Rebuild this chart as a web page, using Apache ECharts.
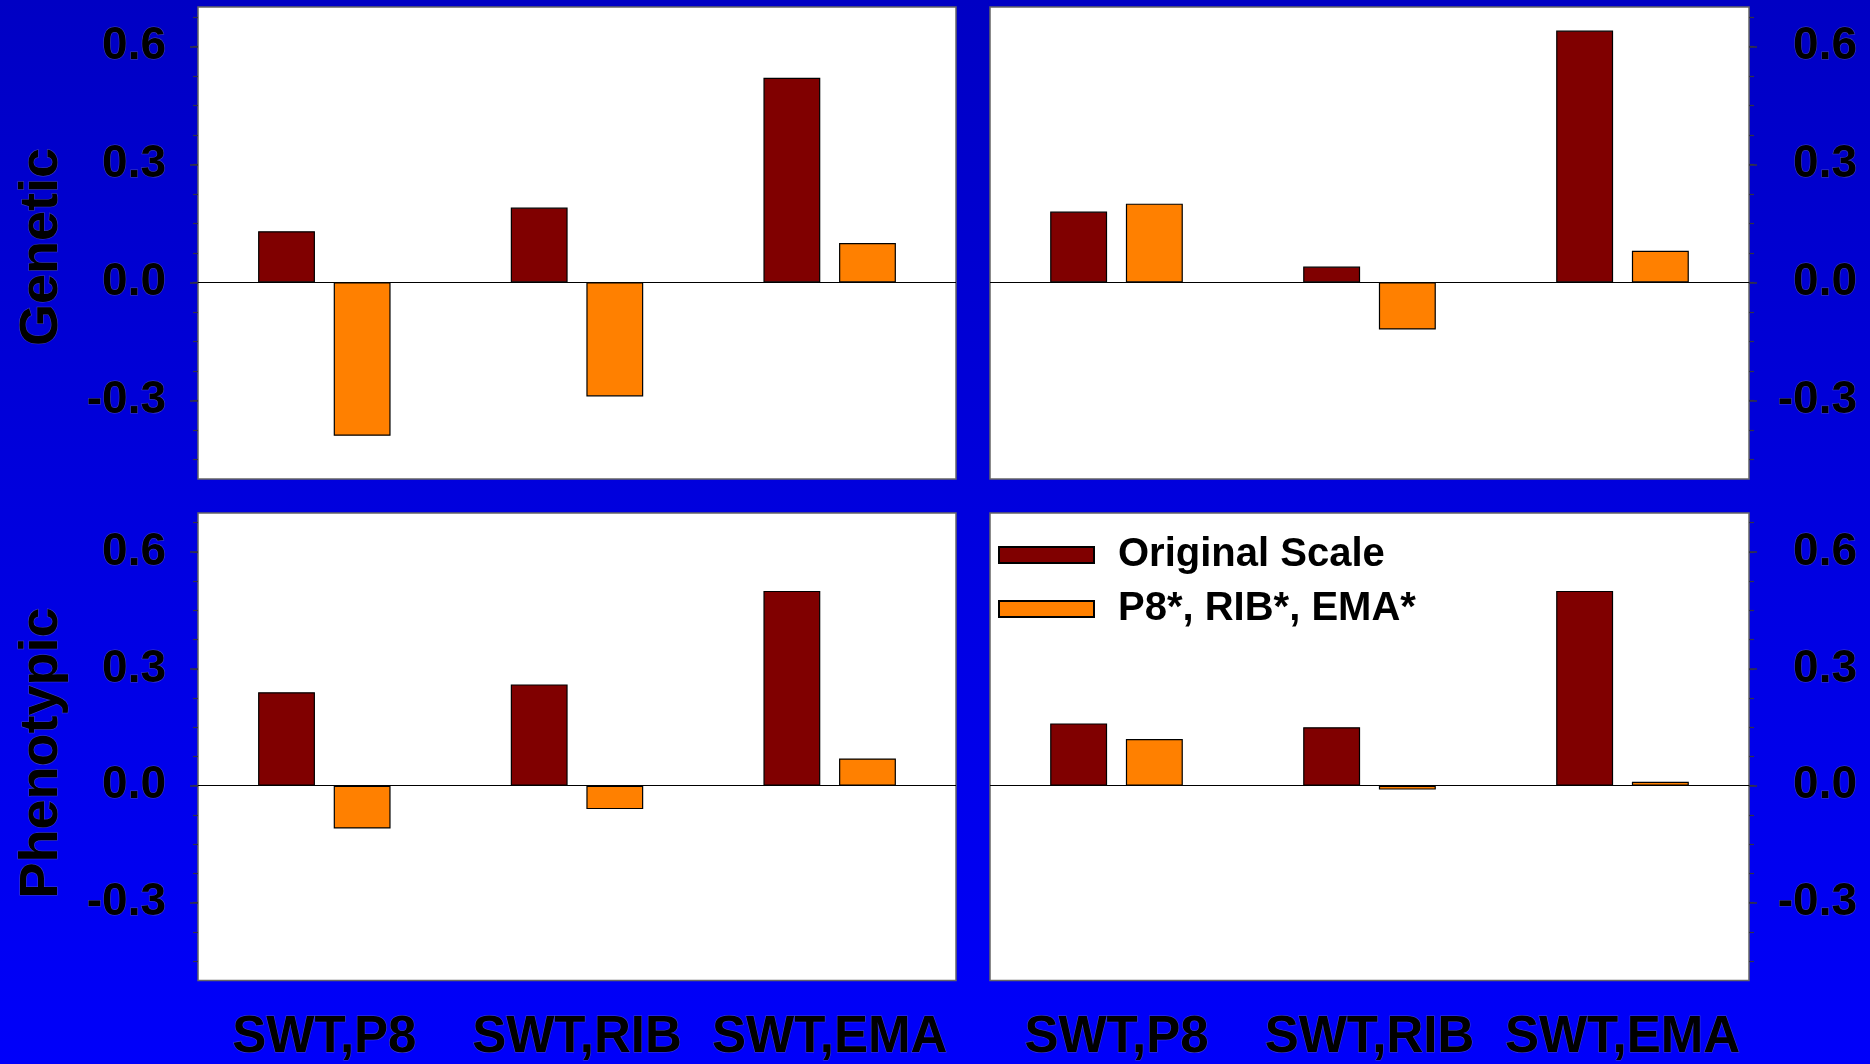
<!DOCTYPE html>
<html>
<head>
<meta charset="utf-8">
<title>Genetic and phenotypic correlations</title>
<script src="https://cdn.jsdelivr.net/npm/echarts@6/dist/echarts.min.js"></script>
<style>
  html, body { margin: 0; padding: 0; }
  body { background: linear-gradient(to bottom, #0000c4 0%, #0000fa 100%); }
  #chart { width: 1870px; height: 1064px; }
</style>
</head>
<body>
<div id="chart"></div>
<script>
// Trait pairs on the category axis
const categories = ['SWT,P8', 'SWT,RIB', 'SWT,EMA'];
const seriesNames = ['Original Scale', 'P8*, RIB*, EMA*'];
const rowTitles = ['Genetic', 'Phenotypic'];

// Correlations, one array per panel and series
const geneticLeftOriginal = [0.13, 0.19, 0.52];
const geneticLeftAdjusted = [-0.39, -0.29, 0.10];
const geneticRightOriginal = [0.18, 0.04, 0.64];
const geneticRightAdjusted = [0.20, -0.12, 0.08];
const phenoLeftOriginal = [0.24, 0.26, 0.50];
const phenoLeftAdjusted = [-0.11, -0.06, 0.07];
const phenoRightOriginal = [0.16, 0.15, 0.50];
const phenoRightAdjusted = [0.12, -0.01, 0.01];

// Value axis ticks
const tickValues = [-0.3, 0, 0.3, 0.6];
const minorTickValues = [-0.45, -0.375, -0.3, -0.225, -0.15, -0.075, 0, 0.075,
  0.15, 0.225, 0.3, 0.375, 0.45, 0.525, 0.6, 0.675];

const seriesColors = ['#800000', '#ff8000'];
const FONT = '"Liberation Sans", Arial, Helvetica, sans-serif';

const panels = [
  { grid: { left: 198, top: 7, width: 758, height: 472 }, side: 'left', xLabels: false,
    data: [geneticLeftOriginal, geneticLeftAdjusted] },
  { grid: { left: 990, top: 7, width: 759, height: 472 }, side: 'right', xLabels: false,
    data: [geneticRightOriginal, geneticRightAdjusted] },
  { grid: { left: 198, top: 513, width: 758, height: 472 }, side: 'left', xLabels: true,
    data: [phenoLeftOriginal, phenoLeftAdjusted] },
  { grid: { left: 990, top: 513, width: 759, height: 472 }, side: 'right', xLabels: true,
    data: [phenoRightOriginal, phenoRightAdjusted] }
];

const textEdge = { textBorderColor: 'rgba(120,120,170,0.55)', textBorderWidth: 1 };

const grid = [], xAxis = [], yAxis = [], series = [];
panels.forEach((p, i) => {
  grid.push(Object.assign({
    show: true, backgroundColor: '#ffffff', borderColor: '#666666', borderWidth: 1.5
  }, p.grid));

  xAxis.push({
    type: 'category', gridIndex: i, data: categories,
    axisLine: { show: false, onZero: false }, axisTick: { show: false },
    splitLine: { show: false },
    axisLabel: Object.assign({
      show: p.xLabels, interval: 0, margin: 32,
      color: '#000', fontSize: 51, fontWeight: 'bold', fontFamily: FONT
    }, textEdge)
  });

  const isRight = p.side === 'right';
  // labelled major ticks
  yAxis.push({
    type: 'value', gridIndex: i, position: p.side, min: -0.5, max: 0.7,
    axisLine: { show: false }, splitLine: { show: false },
    axisTick: { show: true, customValues: tickValues, length: 8,
      lineStyle: { color: '#333344', width: 1.5 } },
    axisLabel: Object.assign({
      customValues: tickValues,
      formatter: v => Number(v).toFixed(1),
      color: '#000', fontSize: 46, fontWeight: 'bold', fontFamily: FONT,
      align: 'right', margin: isRight ? 108 : 32
    }, textEdge)
  });
  // minor ticks
  yAxis.push({
    type: 'value', gridIndex: i, position: p.side, min: -0.5, max: 0.7,
    axisLine: { show: false }, splitLine: { show: false },
    axisLabel: { show: false },
    axisTick: { show: true, customValues: minorTickValues, length: 5,
      lineStyle: { color: '#333344', width: 1.2 } }
  });

  p.data.forEach((values, s) => {
    const item = {
      name: seriesNames[s], type: 'bar',
      xAxisIndex: i, yAxisIndex: i * 2,
      data: values,
      barWidth: '22.5%', barGap: '33%',
      itemStyle: { color: seriesColors[s], borderColor: '#000', borderWidth: 1.2 },
      emphasis: { disabled: true }
    };
    if (s === 0) {
      item.markLine = {
        silent: true, symbol: 'none', label: { show: false },
        lineStyle: { color: '#000', width: 1.2, type: 'solid' },
        data: [{ yAxis: 0 }]
      };
    }
    series.push(item);
  });
});

const chart = echarts.init(document.getElementById('chart'), null, { renderer: 'canvas' });
chart.setOption({
  backgroundColor: 'transparent',
  animation: false,
  grid, xAxis, yAxis, series,
  legend: {
    data: seriesNames, orient: 'vertical', left: 993, top: 530,
    icon: 'rect', itemWidth: 95, itemHeight: 16, itemGap: 14,
    textStyle: { color: '#000', fontSize: 40, fontWeight: 'bold', fontFamily: FONT,
      padding: [0, 0, 0, 19] },
    selectedMode: false
  },
  graphic: rowTitles.map((t, r) => ({
    type: 'text',
    x: 42, y: r === 0 ? 247 : 753,
    rotation: Math.PI / 2,
    style: {
      text: t, fill: '#000', font: 'bold 54px ' + FONT,
      textAlign: 'center', textVerticalAlign: 'middle',
      stroke: 'rgba(120,120,170,0.55)', lineWidth: 1
    }
  }))
});
</script>
</body>
</html>
